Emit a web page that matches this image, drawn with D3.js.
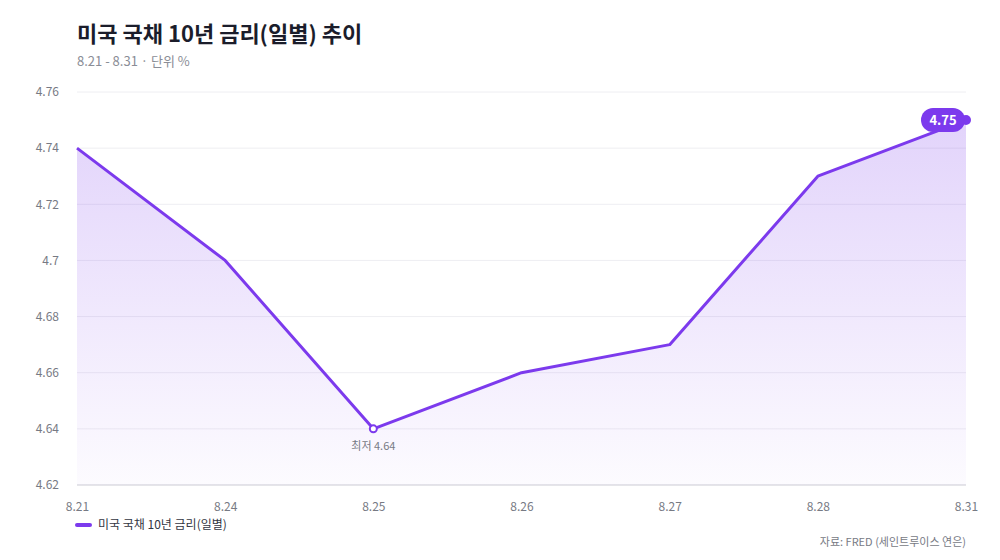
<!DOCTYPE html>
<html>
<head>
<meta charset="utf-8">
<script src="https://cdn.jsdelivr.net/npm/d3@7"></script>
<style>
  body { margin: 0; background: #fff; }
  svg { font-family: "Noto Sans CJK KR", "Noto Sans", sans-serif; }
</style>
</head>
<body>
<script>
// 데이터
var dates = ["8.21", "8.24", "8.25", "8.26", "8.27", "8.28", "8.31"];
var rates = [4.74, 4.70, 4.64, 4.66, 4.67, 4.73, 4.75];
var yTicks = [4.62, 4.64, 4.66, 4.68, 4.70, 4.72, 4.74, 4.76];

var width = 1000, height = 560;
var plotL = 77, plotR = 966, plotT = 92, plotB = 485;
var purple = "#7c3aed";

var svg = d3.select("body").append("svg")
  .attr("width", width)
  .attr("height", height);

var x = d3.scalePoint().domain(dates).range([plotL, plotR]);
var y = d3.scaleLinear().domain([4.62, 4.76]).range([plotB, plotT]);

var pts = dates.map(function(d, i) { return {d: d, v: rates[i]}; });

// 그라데이션
var grad = svg.append("defs").append("linearGradient")
  .attr("id", "fillGrad").attr("x1", 0).attr("y1", 0).attr("x2", 0).attr("y2", 1);
grad.append("stop").attr("offset", "0%").attr("stop-color", purple).attr("stop-opacity", 0.22);
grad.append("stop").attr("offset", "100%").attr("stop-color", purple).attr("stop-opacity", 0.02);

// 제목
svg.append("text").attr("x", 77).attr("y", 42)
  .attr("font-size", 22).attr("font-weight", 700).attr("fill", "#1b1d2b")
  .text("미국 국채 10년 금리(일별) 추이");
svg.append("text").attr("x", 77).attr("y", 66)
  .attr("font-size", 13).attr("fill", "#8a8d96")
  .text("8.21 - 8.31 · 단위 %");

// 그리드
svg.append("g").selectAll("line").data(yTicks).enter().append("line")
  .attr("x1", plotL).attr("x2", plotR)
  .attr("y1", function(d) { return y(d); })
  .attr("y2", function(d) { return y(d); })
  .attr("stroke", function(d, i) { return i == 0 ? "#dcdce2" : "#eeeef2"; })
  .attr("stroke-width", function(d, i) { return i == 0 ? 1.5 : 1; });

// y축
var yAxis = svg.append("g").attr("transform", "translate(" + (plotL - 15) + ",0)")
  .call(d3.axisLeft(y).tickValues(yTicks).tickSize(0).tickFormat(d3.format("")));
yAxis.select(".domain").remove();
yAxis.selectAll("text").attr("font-size", 12).attr("fill", "#777a84")
  .attr("font-family", "'Noto Sans CJK KR', 'Noto Sans', sans-serif");

// x축
var xAxis = svg.append("g").attr("transform", "translate(0," + (plotB + 14) + ")")
  .call(d3.axisBottom(x).tickSize(0));
xAxis.select(".domain").remove();
xAxis.selectAll("text").attr("font-size", 12).attr("fill", "#777a84")
  .attr("font-family", "'Noto Sans CJK KR', 'Noto Sans', sans-serif");

// 영역
var area = d3.area()
  .x(function(d) { return x(d.d); })
  .y0(plotB)
  .y1(function(d) { return y(d.v); });
svg.append("path").datum(pts).attr("d", area).attr("fill", "url(#fillGrad)");

// 선
var line = d3.line()
  .x(function(d) { return x(d.d); })
  .y(function(d) { return y(d.v); });
svg.append("path").datum(pts).attr("d", line)
  .attr("fill", "none").attr("stroke", purple).attr("stroke-width", 3)
  .attr("stroke-linejoin", "round");

// 최저점
var minI = d3.minIndex(rates);
svg.append("circle").attr("cx", x(dates[minI])).attr("cy", y(rates[minI]))
  .attr("r", 3.5).attr("fill", "#fff").attr("stroke", purple).attr("stroke-width", 2);
svg.append("text").attr("x", x(dates[minI])).attr("y", y(rates[minI]) + 21)
  .attr("text-anchor", "middle").attr("font-size", 11).attr("fill", "#777a84")
  .text("최저 " + rates[minI]);

// 마지막 값 라벨
var last = pts[pts.length - 1];
var lx = x(last.d), ly = y(last.v);
svg.append("circle").attr("cx", lx).attr("cy", ly).attr("r", 5).attr("fill", purple);
svg.append("rect").attr("x", lx - 45).attr("y", ly - 12).attr("width", 44).attr("height", 24)
  .attr("rx", 12).attr("fill", purple);
svg.append("text").attr("x", lx - 23).attr("y", ly + 5)
  .attr("text-anchor", "middle").attr("font-size", 13).attr("font-weight", 700).attr("fill", "#fff")
  .text(last.v.toFixed(2));

// 범례
svg.append("line").attr("x1", 77).attr("x2", 90).attr("y1", 525).attr("y2", 525)
  .attr("stroke", purple).attr("stroke-width", 4).attr("stroke-linecap", "round");
svg.append("text").attr("x", 98).attr("y", 529)
  .attr("font-size", 12).attr("fill", "#333642")
  .text("미국 국채 10년 금리(일별)");

// 출처
svg.append("text").attr("x", 966).attr("y", 546).attr("text-anchor", "end")
  .attr("font-size", 11).attr("fill", "#777a84")
  .text("자료: FRED (세인트루이스 연은)");
</script>
</body>
</html>
